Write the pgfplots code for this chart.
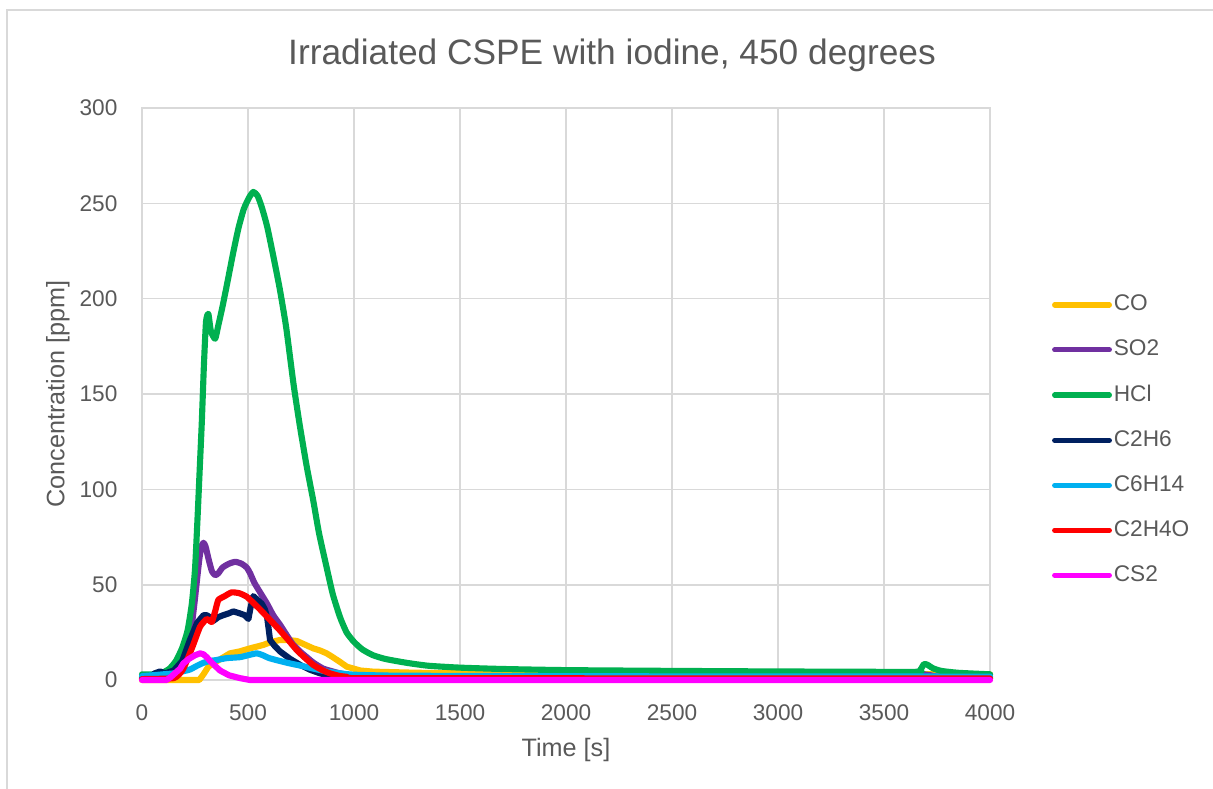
\documentclass[border=0pt]{standalone}
\usepackage{pgfplots}
\pgfplotsset{compat=1.18}
\usepackage{fontspec}
\setmainfont{Liberation Sans}
\definecolor{txt}{HTML}{595959}
\definecolor{gridc}{HTML}{D9D9D9}
\definecolor{cCO}{HTML}{FFC000}
\definecolor{cSO}{HTML}{7030A0}
\definecolor{cHCl}{HTML}{00B050}
\definecolor{cEth}{HTML}{002060}
\definecolor{cHex}{HTML}{00B0F0}
\definecolor{cAce}{HTML}{FF0000}
\definecolor{cCS}{HTML}{FF00FF}
\begin{document}
\begin{tikzpicture}
\useasboundingbox (0,0) rectangle (16,10.407);
\draw[gridc, line width=0.6pt] (0.092,0) -- (0.092,10.275) -- (16,10.275);
\node[txt, font=\fontsize{13.25}{15}\selectfont] at (8.073,9.681) {Irradiated CSPE with iodine, 450 degrees};
\begin{axis}[
  at={(1.873cm,1.437cm)}, anchor=south west,
  scale only axis, width=11.186cm, height=7.545cm,
  xmin=0, xmax=4000, ymin=0, ymax=300,
  xtick={0,500,...,4000}, ytick={0,50,...,300},
  scaled ticks=false,
  /pgf/number format/1000 sep={},
  /pgf/number format/assume math mode=true,
  major tick length=0pt,
  grid=major,
  grid style={gridc, line width=0.6pt},
  axis line style={gridc, line width=0.6pt},
  tick label style={txt, font=\fontsize{8.5}{10}\selectfont},
  xticklabel style={anchor=base, yshift=-0.528cm},
  yticklabel style={anchor=east, inner xsep=0pt, xshift=-0.317cm},
  xlabel={Time [s]}, ylabel={Concentration [ppm]},
  label style={txt, font=\fontsize{9.46}{11}\selectfont},
  xlabel style={at={(axis description cs:0.5,-0.1224)}, anchor=center},
  ylabel style={at={(axis description cs:-0.0991,0.5)}, anchor=center, rotate=0},
  clip=false,
  every axis plot/.append style={line width=2.3pt, line join=round, line cap=round},
  legend image code/.code={\draw[#1, line width=2pt, line cap=round] (0cm,0cm) -- (0.72cm,0cm);},
  legend cell align=left,
  legend style={draw=none, fill=none, at={(axis description cs:1.0725,0.4195)}, anchor=west,
    inner sep=0pt, row sep=0.332cm,
    font=\fontsize{8.5}{10}\selectfont, text=txt,
    nodes={inner xsep=0.7pt, inner ysep=0pt}},
]
\addplot[cCO] coordinates {
(0,0) (270,0) (290,3) (313,7) (340,9) (370,11) (415,14) (460,15) (509,16.6) (540,17.5) (572,18.4) (610,20) (651,21) (690,21) (730,20.5) (770,18.5) (808,16.6) (840,15.5) (871,14) (900,12) (934,9.5) (966,7) (1030,5) (1091,4.4) (1300,3.8) (2000,3.4) (3000,3.2) (4000,3)
};
\addlegendentry{CO}
\addplot[cSO, smooth, tension=0.35] coordinates {
(0,1.5) (100,2) (148,5) (190,13) (226,22) (245,38) (258,51) (270,63) (280,70) (290,72) (300,70) (315,63) (330,57) (345,55) (360,56) (380,59) (410,61) (440,62) (470,61) (494,59) (510,56) (530,51) (557,46) (590,40) (619,34) (651,29) (680,24) (710,19) (745,15) (777,12) (810,9) (855,6) (900,4.5) (934,3.5) (1000,2.5) (1200,2) (2000,1.5) (3650,1.5) (3690,3) (3730,2) (4000,1.5)
};
\addlegendentry{SO2}
\addplot[cHCl, smooth, tension=0.35] coordinates {
(0,3) (50,3) (80,3.5) (100,4) (130,6) (160,10) (190,17) (215,26) (235,40) (250,58) (262,85) (272,110) (282,135) (292,165) (302,188) (313,192) (325,183) (345,179) (360,186) (380,196) (400,207) (430,224) (455,237) (480,247) (505,253) (525,256) (545,254) (565,248) (590,238) (620,222) (650,205) (680,185) (715,155) (745,133) (777,112) (808,94) (835,77) (871,59) (900,45) (934,33) (965,25) (1000,20) (1040,16) (1090,13) (1150,11) (1250,9) (1350,7.5) (1500,6.5) (1700,5.8) (2000,5.2) (2500,4.8) (3000,4.5) (3640,4.3) (3670,5.2) (3688,8.3) (3705,8) (3730,6.2) (3770,4.8) (3850,3.8) (4000,3)
};
\addlegendentry{HCl}
\addplot[cEth] coordinates {
(0,1) (40,1.5) (60,3.5) (85,4.5) (110,3.5) (150,5) (190,10) (226,21) (260,30) (290,34) (305,34) (320,33) (336,31) (360,33) (383,34) (410,35) (431,36) (460,35) (485,34) (502,32) (512,38) (525,44) (545,42) (565,40) (580,37) (590,33) (596,28) (604,21) (625,18) (651,15) (700,11) (745,8) (790,5.5) (840,3.5) (900,2) (1000,1) (4000,1)
};
\addlegendentry{C2H6}
\addplot[cHex, smooth, tension=0.3] coordinates {
(0,2) (50,2.5) (100,3) (150,3.5) (190,4.5) (226,5.5) (260,7.5) (289,9) (320,10) (352,10.5) (400,11.5) (462,12) (500,13) (541,14) (570,13) (600,11.5) (650,10) (698,8.7) (750,7.5) (808,6) (870,4.5) (934,3.5) (1000,2.8) (1200,2.3) (2000,2) (4000,1.8)
};
\addlegendentry{C6H14}
\addplot[cAce, smooth, tension=0.3] coordinates {
(0,0.5) (150,1) (190,5) (211,10) (240,18) (274,28) (305,32) (320,31) (330,30.5) (345,36) (360,42) (390,44) (423,46) (460,45.5) (494,43.7) (525,40.5) (557,37) (600,32) (651,26) (690,21) (730,15.7) (770,11.5) (808,7.9) (850,5.2) (887,3.5) (930,2.2) (966,1.7) (1050,1) (4000,0.8)
};
\addlegendentry{C2H4O}
\addplot[cCS] coordinates {
(0,0) (116,0) (135,1.5) (160,4) (180,6) (195,8.7) (220,11) (250,13) (274,14) (290,13.5) (305,12) (330,9) (368,5) (410,2.5) (462,1) (510,0) (4000,0)
};
\addlegendentry{CS2}
\end{axis}
\end{tikzpicture}
\end{document}
